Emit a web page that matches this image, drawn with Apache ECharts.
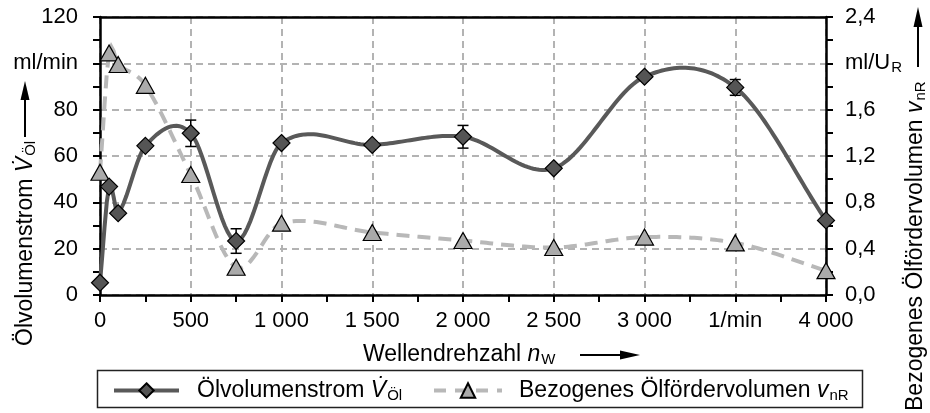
<!DOCTYPE html>
<html>
<head>
<meta charset="utf-8">
<script src="https://cdn.jsdelivr.net/npm/echarts@6/dist/echarts.min.js"></script>
<style>
  html, body { margin: 0; padding: 0; background: #fff; }
  #chart { width: 930px; height: 413px; }
</style>
</head>
<body>
<div id="chart"></div>
<script>
// Shaft speed in 1/min
const rpm = [0, 50, 100, 250, 500, 750, 1000, 1500, 2000, 2500, 3000, 3500, 4000];
// Oil volume flow in ml/min
const oilFlow = [5.3, 46.8, 35.3, 64.4, 69.8, 23.3, 65.6, 64.8, 68.3, 54.7, 94.2, 89.6, 32.2];
// Scatter of the oil volume flow (+/-), ml/min
const flowError = [0, 0, 0, 0, 5.7, 5.3, 0, 0, 4.9, 0, 0, 3.4, 0];
// Specific delivered oil volume in ml/U_R
const specVolume = [1.06, 2.09, 1.99, 1.81, 1.04, 0.24, 0.62, 0.54, 0.47, 0.41, 0.50, 0.45, 0.21];

const xTickLabels = ['0', '500', '1 000', '1 500', '2 000', '2 500', '3 000', '1/min', '4 000'];
const leftTickLabels = ['0', '20', '40', '60', '80', 'ml/min', '120'];
const rightTickLabels = ['0,0', '0,4', '0,8', '1,2', '1,6', '{u|ml/U}{s|R}', '2,4'];

const FONT = '"Liberation Sans", Arial, sans-serif';
const FS_TICK = 22;
const FS = 23;
const sub = { fontSize: 15, fontFamily: FONT, color: '#000', padding: [10, 0, 0, 1] };
const subTick = { fontSize: 15, fontFamily: FONT, color: '#000', padding: [9, 0, 0, 1] };
const ital = { fontSize: FS, fontFamily: FONT, color: '#000', fontStyle: 'italic' };
const norm = { fontSize: FS, fontFamily: FONT, color: '#000' };
const normTick = { fontSize: FS_TICK, fontFamily: FONT, color: '#000' };

const chart = echarts.init(document.getElementById('chart'), null, { renderer: 'canvas' });

const flowPairs = rpm.map((x, i) => [x, oilFlow[i]]);
const specPairs = rpm.map((x, i) => [x, specVolume[i]]);
const errRows = rpm.map((x, i) => [x, oilFlow[i] - flowError[i], oilFlow[i] + flowError[i]])
  .filter((r, i) => flowError[i] > 0);

// Cubic Hermite curve (Catmull-Rom style tangents) through pixel points
function splinePoints(px) {
  const n = px.length;
  const m = px.map((p, i) => {
    const a = px[Math.max(0, i - 1)], b = px[Math.min(n - 1, i + 1)];
    return (b[1] - a[1]) / (b[0] - a[0]);
  });
  const out = [px[0]];
  for (let i = 0; i < n - 1; i++) {
    const [x0, y0] = px[i], [x1, y1] = px[i + 1];
    const h = x1 - x0;
    const steps = Math.max(4, Math.ceil(h / 3));
    for (let k = 1; k <= steps; k++) {
      const t = k / steps, t2 = t * t, t3 = t2 * t;
      const h00 = 2 * t3 - 3 * t2 + 1, h10 = t3 - 2 * t2 + t;
      const h01 = -2 * t3 + 3 * t2, h11 = t3 - t2;
      out.push([x0 + h * t, h00 * y0 + h10 * h * m[i] + h01 * y1 + h11 * h * m[i + 1]]);
    }
  }
  return out;
}

function curveRenderer(pairs, style) {
  return (params, api) => {
    if (params.dataIndex !== 0) return null;
    const px = pairs.map(p => api.coord(p));
    return { type: 'polyline', shape: { points: splinePoints(px) }, style: Object.assign({ fill: null }, style) };
  };
}

const axisLine = { show: true, onZero: false, lineStyle: { color: '#000', width: 2.5 } };
const tick = { show: true, length: 7, lineStyle: { color: '#000', width: 2 } };
const minor = { show: true, splitNumber: 2, length: 7, lineStyle: { color: '#000', width: 2 } };
const gridLine = { show: true, lineStyle: { color: '#b3b3b3', width: 2, type: [7, 5] } };

const legendRich = { t: norm, i: ital, s: sub, p: { width: 13 } };

const option = {
  animation: false,
  backgroundColor: '#fff',
  textStyle: { fontFamily: FONT },
  grid: { left: 100, right: 104, top: 17, bottom: 118 },
  xAxis: [
    {
      type: 'value', min: 0, max: 4000, interval: 500,
      axisLine: axisLine, axisTick: tick, minorTick: minor, splitLine: gridLine,
      axisLabel: {
        color: '#000', fontSize: FS_TICK, fontFamily: FONT, margin: 15,
        formatter: v => xTickLabels[Math.round(v / 500)]
      }
    },
    {
      type: 'value', min: 0, max: 4000, position: 'top',
      axisLine: axisLine, axisTick: { show: false }, axisLabel: { show: false }, splitLine: { show: false }
    }
  ],
  yAxis: [
    {
      type: 'value', min: 0, max: 120, interval: 20, position: 'left',
      axisLine: axisLine, axisTick: tick, minorTick: minor, splitLine: gridLine,
      axisLabel: {
        color: '#000', fontSize: FS_TICK, fontFamily: FONT, margin: 22,
        formatter: v => leftTickLabels[Math.round(v / 20)]
      }
    },
    {
      type: 'value', min: 0, max: 2.4, interval: 0.4, position: 'right',
      axisLine: axisLine, axisTick: tick, minorTick: minor, splitLine: { show: false },
      axisLabel: {
        color: '#000', fontSize: FS_TICK, fontFamily: FONT, margin: 19,
        formatter: v => rightTickLabels[Math.round(v / 0.4)],
        rich: { u: normTick, s: subTick }
      }
    }
  ],
  legend: [
    {
      left: 107, top: 374, itemWidth: 65, itemHeight: 18, itemGap: 0,
      data: ['Ölvolumenstrom'],
      lineStyle: { color: '#595959', width: 4, opacity: 1, type: 'solid' },
      formatter: () => '{p|}{t|Ölvolumenstrom }{i|V\u0307}{s|Öl}',
      textStyle: { rich: legendRich }
    },
    {
      left: 427, top: 374, itemWidth: 68, itemHeight: 18, itemGap: 0,
      data: ['Bezogenes Ölfördervolumen'],
      lineStyle: { color: '#b8b8b8', width: 4, opacity: 1, type: [12, 9] },
      formatter: () => '{p|}{t|Bezogenes Ölfördervolumen }{i|v}{s|nR}',
      textStyle: { rich: { t: norm, i: ital, s: sub, p: { width: 12 } } }
    }
  ],
  graphic: [
    // legend frame
    { type: 'rect', shape: { x: 97.5, y: 370.5, width: 765, height: 37 },
      style: { fill: 'none', stroke: '#222', lineWidth: 1.5 }, z: 0 },
    // left axis title with arrow
    { type: 'text', x: 26, y: 346, rotation: Math.PI / 2,
      style: { text: '{t|Ölvolumenstrom }{i|V\u0307}{s|Öl}', rich: { t: norm, i: ital, s: sub },
               align: 'left', verticalAlign: 'middle' } },
    { type: 'line', shape: { x1: 25, y1: 137, x2: 25, y2: 98 }, style: { stroke: '#000', lineWidth: 2 } },
    { type: 'polygon', shape: { points: [[25, 81], [20.5, 100], [29.5, 100]] }, style: { fill: '#000' } },
    // right axis title with arrow
    { type: 'text', x: 916, y: 411, rotation: Math.PI / 2,
      style: { text: '{t|Bezogenes Ölfördervolumen }{i|v}{s|nR}', rich: { t: norm, i: ital, s: sub },
               align: 'left', verticalAlign: 'middle' } },
    { type: 'line', shape: { x1: 918, y1: 67, x2: 918, y2: 25 }, style: { stroke: '#000', lineWidth: 2 } },
    { type: 'polygon', shape: { points: [[918, 7], [913.5, 27], [922.5, 27]] }, style: { fill: '#000' } },
    // x axis title with arrow
    { type: 'text', x: 363, y: 355,
      style: { text: '{t|Wellendrehzahl }{i|n}{s|W}', rich: { t: norm, i: ital, s: sub },
               align: 'left', verticalAlign: 'middle' } },
    { type: 'line', shape: { x1: 580, y1: 355, x2: 622, y2: 355 }, style: { stroke: '#000', lineWidth: 2 } },
    { type: 'polygon', shape: { points: [[640, 355], [620, 350.5], [620, 359.5]] }, style: { fill: '#000' } }
  ],
  series: [
    {
      name: 'Trend Ölfördervolumen', type: 'custom', yAxisIndex: 1, data: specPairs, z: 2, silent: true,
      renderItem: curveRenderer(specPairs, { stroke: '#b8b8b8', lineWidth: 4, lineDash: [13, 8] })
    },
    {
      name: 'Trend Ölvolumenstrom', type: 'custom', yAxisIndex: 0, data: flowPairs, z: 3, silent: true,
      renderItem: curveRenderer(flowPairs, { stroke: '#595959', lineWidth: 4 })
    },
    {
      name: 'Streuung', type: 'custom', yAxisIndex: 0, data: errRows, z: 4, silent: true,
      renderItem: (params, api) => {
        const hi = api.coord([api.value(0), api.value(2)]);
        const lo = api.coord([api.value(0), api.value(1)]);
        const w = 5.5;
        const st = { stroke: '#000', lineWidth: 1.5 };
        return {
          type: 'group',
          children: [
            { type: 'line', shape: { x1: hi[0], y1: hi[1], x2: lo[0], y2: lo[1] }, style: st },
            { type: 'line', shape: { x1: hi[0] - w, y1: hi[1], x2: hi[0] + w, y2: hi[1] }, style: st },
            { type: 'line', shape: { x1: lo[0] - w, y1: lo[1], x2: lo[0] + w, y2: lo[1] }, style: st }
          ]
        };
      }
    },
    {
      name: 'Bezogenes Ölfördervolumen',
      type: 'line', yAxisIndex: 1, data: specPairs, z: 5,
      lineStyle: { opacity: 0 },
      symbol: 'triangle', symbolSize: [18, 16],
      itemStyle: { color: '#aaaaaa', borderColor: '#000', borderWidth: 1.2 }
    },
    {
      name: 'Ölvolumenstrom',
      type: 'line', yAxisIndex: 0, data: flowPairs, z: 6,
      lineStyle: { opacity: 0 },
      symbol: 'diamond', symbolSize: 17,
      itemStyle: { color: '#555555', borderColor: '#000', borderWidth: 1.2 }
    }
  ]
};

chart.setOption(option);
</script>
</body>
</html>
